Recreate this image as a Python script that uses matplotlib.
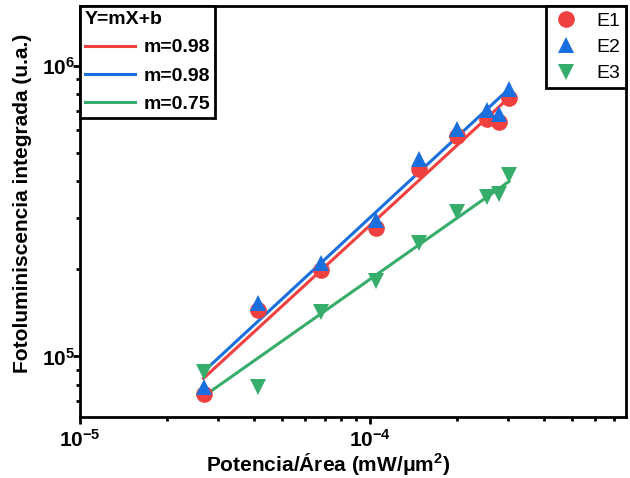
import numpy as np
import matplotlib
matplotlib.use("Agg")
import matplotlib.pyplot as plt
from matplotlib.ticker import FixedLocator, FixedFormatter, LogLocator, NullFormatter
from matplotlib.lines import Line2D

plt.rcParams['font.family'] = ['Liberation Sans', 'DejaVu Sans']
plt.rcParams['mathtext.fontset'] = 'custom'
plt.rcParams['mathtext.bf'] = 'Liberation Sans:bold'
plt.rcParams['mathtext.rm'] = 'Liberation Sans:bold'

# Data
potencia = [2.67e-5, 4.13e-5, 6.82e-5, 1.05e-4, 1.48e-4, 2.01e-4, 2.54e-4, 2.79e-4, 3.03e-4]
e1 = [7.45e4, 1.44e5, 1.98e5, 2.76e5, 4.42e5, 5.74e5, 6.57e5, 6.41e5, 7.76e5]
e2 = [7.82e4, 1.53e5, 2.09e5, 2.94e5, 4.78e5, 6.07e5, 7.05e5, 6.83e5, 8.33e5]
e3 = [8.81e4, 7.88e4, 1.42e5, 1.82e5, 2.45e5, 3.14e5, 3.53e5, 3.62e5, 4.21e5]
series_names = ["E1", "E2", "E3"]
fit_labels = ["m=0.98", "m=0.98", "m=0.75"]
colors = ["#F14040", "#1A6FDF", "#37AD6B"]
markers = ["o", "^", "v"]

fig = plt.figure(figsize=(6.3, 4.78), dpi=100)
ax = fig.add_axes([0.127, 0.128, 0.867, 0.859])

x = np.array(potencia)
# power-law fits drawn over the measured range
for ys, c in zip([e1, e2, e3], colors):
    m, b = np.polyfit(np.log10(x), np.log10(ys), 1)
    xf = np.array([x.min(), x.max()])
    ax.plot(xf, 10 ** (m * np.log10(xf) + b), color=c, lw=2.2, zorder=3)

marker_handles = []
for ys, c, mk, name in zip([e1, e2, e3], colors, markers, series_names):
    ax.plot(x, ys, linestyle="none", marker=mk, markersize=12, color=c,
            markeredgewidth=0, zorder=4)
    marker_handles.append(Line2D([], [], linestyle="none", marker=mk, markersize=12,
                                 color=c, markeredgewidth=0, label=name))

fit_handles = [Line2D([], [], color=c, lw=2.2, label=lab)
               for c, lab in zip(colors, fit_labels)]

ax.set_xscale("log")
ax.set_yscale("log")
ax.set_xlim(1e-5, 7.7e-4)
ax.set_ylim(6.2e4, 1.6e6)

ax.xaxis.set_major_locator(FixedLocator([1e-5, 1e-4]))
ax.xaxis.set_major_formatter(FixedFormatter([r"$\mathbf{10^{-5}}$", r"$\mathbf{10^{-4}}$"]))
ax.yaxis.set_major_locator(FixedLocator([1e5, 1e6]))
ax.yaxis.set_major_formatter(FixedFormatter([r"$\mathbf{10^{5}}$", r"$\mathbf{10^{6}}$"]))
for axis in (ax.xaxis, ax.yaxis):
    axis.set_minor_locator(LogLocator(base=10, subs=np.arange(2, 10)))
    axis.set_minor_formatter(NullFormatter())

ax.tick_params(which="major", direction="out", length=5, width=2, labelsize=15, pad=4)
ax.tick_params(axis="y", which="major", pad=-1.5)
ax.tick_params(which="minor", direction="out", length=3, width=2)
for sp in ax.spines.values():
    sp.set_linewidth(2)

ax.set_xlabel("Potencia/Área (mW/μm$^{\\mathbf{2}}$)", fontsize=15, fontweight="bold", labelpad=2)
ax.xaxis.set_label_coords(0.455, -0.085)
ax.set_ylabel("Fotoluminiscencia integrada (u.a.)", fontsize=15, fontweight="bold", labelpad=2)
ax.yaxis.set_label_coords(-0.087, 0.52)

leg1 = ax.legend(handles=fit_handles, loc="upper left", bbox_to_anchor=(0, 1),
                 borderaxespad=0, title="Y=mX+b", alignment="left",
                 prop={"size": 14, "weight": "bold"}, fancybox=False,
                 edgecolor="black", framealpha=1, handlelength=2.6,
                 handletextpad=0.4, labelspacing=0.55, borderpad=0.25)
leg1.get_title().set_fontsize(14)
leg1.get_title().set_fontweight("bold")
leg1.get_frame().set_linewidth(2)
ax.add_artist(leg1)

leg2 = ax.legend(handles=marker_handles, loc="upper right", bbox_to_anchor=(1, 1),
                 borderaxespad=0, prop={"size": 14}, fancybox=False,
                 edgecolor="black", framealpha=1, handlelength=1.5,
                 handletextpad=0.8, labelspacing=0.45, borderpad=0.3)
leg2.get_frame().set_linewidth(2)

fig.savefig("out.png", dpi=100)
